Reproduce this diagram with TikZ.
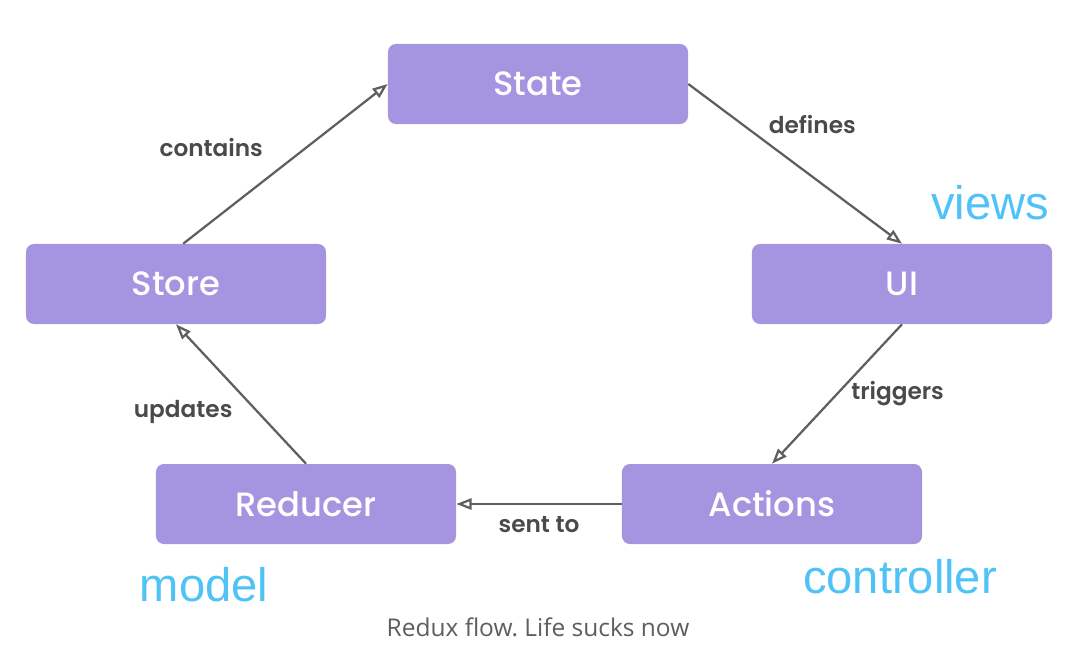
\documentclass[tikz,border=0pt]{standalone}
\usepackage{fontspec}
\usepackage{tikz}
\usetikzlibrary{arrows.meta}
\newfontfamily\boxfont{Poppins}[UprightFont=*-Medium, BoldFont=*-SemiBold]
\newfontfamily\notefont{Liberation Sans}
\newfontfamily\capfont{Open Sans}
\definecolor{boxpurple}{HTML}{A594E0}
\definecolor{flowgray}{HTML}{5F5F5F}
\definecolor{lblgray}{HTML}{4A4A4A}
\definecolor{noteblue}{HTML}{4FC3F7}
\definecolor{capgray}{HTML}{5E5E5E}
\frenchspacing

\begin{document}
\begin{tikzpicture}[x=0.025cm, y=-0.025cm,
    box/.style={rectangle, rounded corners=0.2cm, fill=boxpurple, text=white,
        minimum width=7.5cm, minimum height=2cm, font=\boxfont\fontsize{24}{28}\selectfont},
    flow/.style={color=flowgray, line width=1.6pt, -{Triangle[open, length=3.8mm, width=2.8mm]}},
    lbl/.style={text=lblgray, font=\boxfont\bfseries\fontsize{16.5}{19}\selectfont},
    note/.style={text=noteblue, font=\notefont\fontsize{33.5}{38}\selectfont}]
    \useasboundingbox (0,0) rectangle (1072,654);
    \node[box] at (538,84) (State) {State};
    \node[box] at (176,284) (Store) {Store};
    \node[box] at (902,284) (UI) {UI};
    \node[box] at (306,504) (Reducer) {Reducer};
    \node[box] at (772,504) (Actions) {Actions};
    \path [flow] ([xshift=0.18cm]Store.north) edge node[lbl, pos=0.45, anchor=south east, inner sep=8pt, yshift=2pt] {contains} (State.west);
    \path [flow] (State.east) edge node[lbl, pos=0.35, anchor=south west] {defines} (UI.north);
    \path [flow] (UI.south) edge node[lbl, pos=0.5, anchor=west, xshift=6pt] {triggers} (Actions.north);
    \path [flow] (Actions.west) edge node[lbl, below, yshift=-5pt] {sent to} (Reducer.east);
    \path [flow] (Reducer.north) edge node[lbl, pos=0.37, anchor=east, xshift=-14pt] {updates} (Store.south);
    \node[note] at (990,203) (views) {views};
    \node[note] at (900,577) (controller) {controller};
    \node[note] at (204,585) (model) {model};
    \node[text=capgray, font=\capfont\fontsize{17.4}{20}\selectfont] at (538,627) (caption) {Redux flow. Life sucks now};
\end{tikzpicture}
\end{document}
